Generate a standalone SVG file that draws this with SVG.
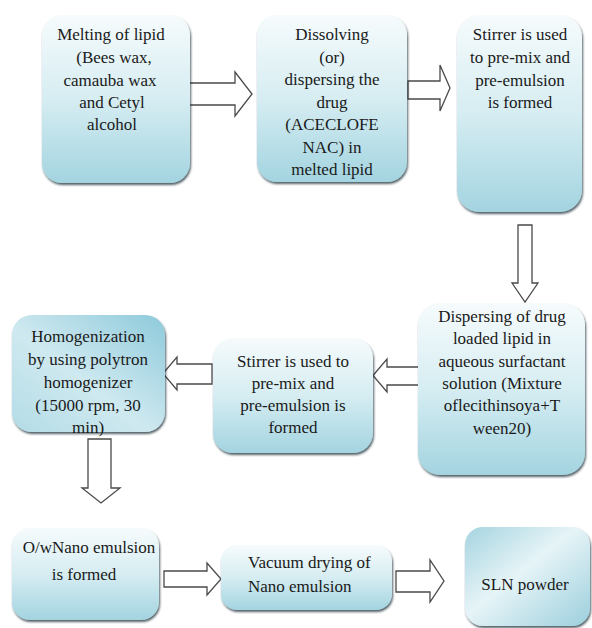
<svg xmlns="http://www.w3.org/2000/svg" width="592" height="628" viewBox="0 0 592 628">
<defs>
<linearGradient id="gv" x1="0" y1="0" x2="0" y2="1">
<stop offset="0" stop-color="#f6fbfc"/>
<stop offset="0.5" stop-color="#d6edf2"/>
<stop offset="1" stop-color="#a3d4e0"/>
</linearGradient>
<linearGradient id="gd" x1="1" y1="0" x2="0" y2="1">
<stop offset="0" stop-color="#8ecadb"/>
<stop offset="0.55" stop-color="#cfe9f0"/>
<stop offset="1" stop-color="#b3dce6"/>
</linearGradient>
<linearGradient id="gs" x1="0" y1="0" x2="1" y2="1">
<stop offset="0" stop-color="#a5d4e0"/>
<stop offset="0.45" stop-color="#e6f4f7"/>
<stop offset="1" stop-color="#9ccfdd"/>
</linearGradient>
<filter id="sh" x="-10%" y="-10%" width="125%" height="125%">
<feDropShadow dx="1" dy="2" stdDeviation="1" flood-color="#1e2e36" flood-opacity="0.75"/>
</filter>
<style>
.box{fill:url(#gv);filter:url(#sh);}
.t{font-family:'Liberation Serif','Times New Roman',serif;font-size:17px;fill:#1a1a1a;text-anchor:middle;}
.arr{fill:#ffffff;stroke:#4a4a4a;stroke-width:1.3;stroke-linejoin:miter;}
</style>
</defs>
<rect width="592" height="628" fill="#ffffff"/>

<g id="connectors">
<polygon class="arr" points="188,83 235,83 235,72 252,94 235,116 235,105 188,105"/>
<polygon class="arr" points="408,81 440,81 440,65 450,88 440,111 440,99 408,99"/>
<polygon class="arr" points="518,225 532,225 532,283 538,283 525,302 512,283 518,283"/>
<polygon class="arr" points="421,367 421,385 387,385 387,392 373,375.5 387,359 387,367"/>
<polygon class="arr" points="212,364 212,384 177,384 177,390 163,373.5 177,357 177,364"/>
<polygon class="arr" points="88,439 111,439 111,488 120,488 101,503 82,488 88,488"/>
<polygon class="arr" points="164,571 207,571 207,563 221,579 207,595 207,587 164,587"/>
<polygon class="arr" points="396,571 430,571 430,560 444,581 430,602 430,592 396,592"/>
</g>

<g id="n1">
<rect class="box" x="42" y="15" width="148" height="168" rx="20"/>
<text class="t" x="111" y="40">Melting of lipid</text>
<text class="t" x="114" y="63">(Bees wax,</text>
<text class="t" x="110" y="86">camauba wax</text>
<text class="t" x="112" y="108">and Cetyl</text>
<text class="t" x="112" y="130">alcohol</text>
</g>

<g id="n2">
<rect class="box" x="257" y="15" width="150" height="167" rx="20"/>
<text class="t" x="332" y="40">Dissolving</text>
<text class="t" x="332" y="62.5">(or)</text>
<text class="t" x="332" y="85">dispersing the</text>
<text class="t" x="332" y="107.5">drug</text>
<text class="t" x="332" y="130">(ACECLOFE</text>
<text class="t" x="332" y="152.5">NAC) in</text>
<text class="t" x="332" y="175">melted lipid</text>
</g>

<g id="n3">
<rect class="box" x="457" y="15" width="125" height="197" rx="22"/>
<text class="t" x="520" y="40">Stirrer is used</text>
<text class="t" x="520" y="63">to pre-mix and</text>
<text class="t" x="520" y="86">pre-emulsion</text>
<text class="t" x="520" y="108">is formed</text>
</g>

<g id="n4">
<rect class="box" x="418" y="303" width="167" height="172" rx="22"/>
<text class="t" x="502" y="322">Dispersing of drug</text>
<text class="t" x="502" y="344.3">loaded lipid in</text>
<text class="t" x="502" y="366.6">aqueous surfactant</text>
<text class="t" x="502" y="388.9">solution (Mixture</text>
<text class="t" x="502" y="411.2">oflecithinsoya+T</text>
<text class="t" x="502" y="433.5">ween20)</text>
</g>

<g id="n5">
<rect class="box" x="213" y="338" width="160" height="115" rx="20"/>
<text class="t" x="293" y="367">Stirrer is used to</text>
<text class="t" x="293" y="389">pre-mix and</text>
<text class="t" x="293" y="411">pre-emulsion is</text>
<text class="t" x="293" y="433">formed</text>
</g>

<g id="n6">
<rect x="12" y="315" width="153" height="117" rx="20" fill="url(#gd)" filter="url(#sh)"/>
<text class="t" x="88" y="342">Homogenization</text>
<text class="t" x="88" y="365">by using polytron</text>
<text class="t" x="88" y="388">homogenizer</text>
<text class="t" x="88" y="411">(15000 rpm, 30</text>
<text class="t" x="88" y="433">min)</text>
</g>

<g id="n7">
<rect class="box" x="12" y="528" width="147" height="92" rx="18"/>
<text class="t" x="89" y="553">O/wNano emulsion</text>
<text class="t" x="84" y="580">is formed</text>
</g>

<g id="n8">
<rect class="box" x="221" y="545" width="171" height="65" rx="16"/>
<text class="t" x="248" y="568" style="text-anchor:start">Vacuum drying of</text>
<text class="t" x="248" y="592" style="text-anchor:start">Nano emulsion</text>
</g>

<g id="n9">
<rect x="465" y="527" width="125" height="99" rx="18" fill="url(#gs)" filter="url(#sh)"/>
<text class="t" x="525" y="590">SLN powder</text>
</g>
</svg>
